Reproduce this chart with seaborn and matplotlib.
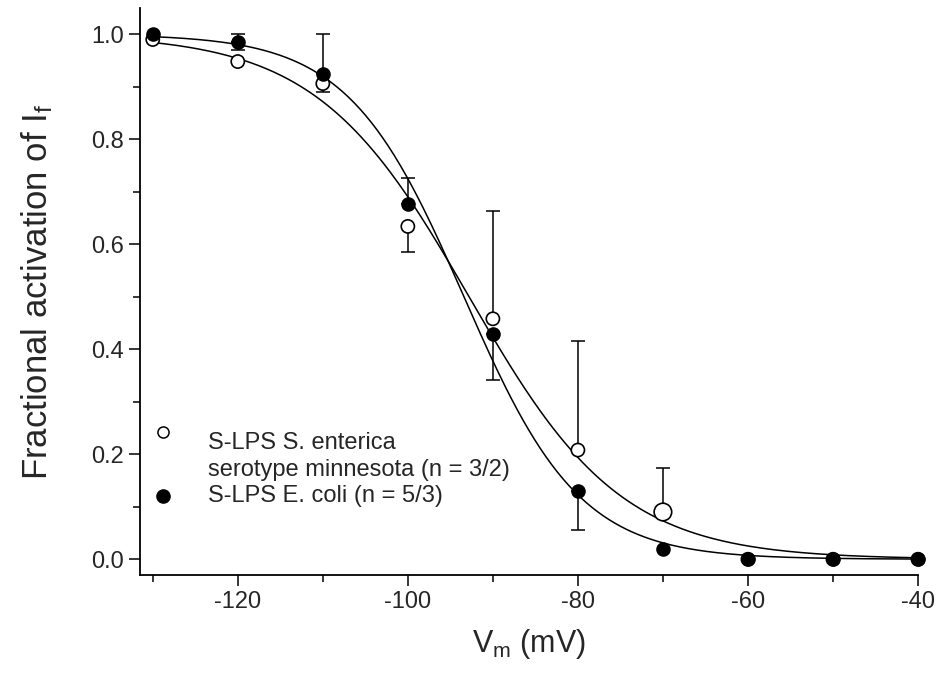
import numpy as np
import pandas as pd
import seaborn as sns
import matplotlib.pyplot as plt
from matplotlib.ticker import MultipleLocator

# membrane voltage steps (mV)
voltage = [-130, -120, -110, -100, -90, -80, -70, -60, -50, -40]

# S-LPS S. enterica serotype minnesota (open circles)
enterica = [0.99, 0.948, 0.906, 0.634, 0.458, 0.208, 0.09, 0.0, 0.0, 0.0]
enterica_err_up = [0, 0, 0, 0, 0.206, 0.207, 0.084, 0, 0, 0]
enterica_err_dn = [0, 0, 0.016, 0.048, 0, 0, 0, 0, 0, 0]

# S-LPS E. coli (filled circles)
ecoli = [1.0, 0.985, 0.924, 0.676, 0.43, 0.13, 0.02, 0.0, 0.0, 0.0]
ecoli_err_up = [0, 0.015, 0.076, 0.051, 0, 0, 0, 0, 0, 0]
ecoli_err_dn = [0, 0.015, 0, 0, 0.088, 0.075, 0, 0, 0, 0]

# Boltzmann fit parameters (V1/2, slope k)
enterica_fit = (-92.8, 8.98)
ecoli_fit = (-93.4, 6.81)

legend_labels = ['S-LPS S. enterica\nserotype minnesota (n = 3/2)', 'S-LPS E. coli (n = 5/3)']


def boltzmann(v, vhalf, k):
    return 1.0 / (1.0 + np.exp((v - vhalf) / k))


sns.set_style('ticks')
plt.rcParams['font.family'] = ['Liberation Sans', 'DejaVu Sans']
plt.rcParams['mathtext.default'] = 'regular'
plt.rcParams['axes.unicode_minus'] = False

fig = plt.figure(figsize=(9.39, 6.77), dpi=100)
ax = fig.add_axes([140 / 939, 1 - 575 / 677, 778 / 939, 567 / 677])

# fitted curves
v_fit = np.linspace(voltage[0], voltage[-1], 400)
fits = pd.DataFrame({'v': v_fit,
                     'enterica': boltzmann(v_fit, *enterica_fit),
                     'ecoli': boltzmann(v_fit, *ecoli_fit)})
sns.lineplot(data=fits, x='v', y='enterica', color='black', lw=1.1, ax=ax, zorder=2)
sns.lineplot(data=fits, x='v', y='ecoli', color='black', lw=1.1, ax=ax, zorder=2)

# error bars (one-sided, only where present)
v = np.array(voltage)
for y, up, dn in [(enterica, enterica_err_up, enterica_err_dn), (ecoli, ecoli_err_up, ecoli_err_dn)]:
    y, up, dn = np.array(y), np.array(up), np.array(dn)
    m = up > 0
    ax.errorbar(v[m], y[m], yerr=[np.zeros(m.sum()), up[m]], fmt='none', ecolor='black',
                elinewidth=1.1, capsize=5, capthick=1.1, zorder=1)
    m = dn > 0
    ax.errorbar(v[m], y[m], yerr=[dn[m], np.zeros(m.sum())], fmt='none', ecolor='black',
                elinewidth=1.1, capsize=5, capthick=1.1, zorder=1)

# data points
pts = pd.DataFrame({'v': voltage, 'enterica': enterica, 'ecoli': ecoli})
sizes = [160 if x == -70 else 90 for x in voltage]
sns.scatterplot(data=pts, x='v', y='enterica', marker='o', s=sizes, color='white',
                edgecolor='black', linewidth=1.2, ax=ax, zorder=4, clip_on=False)
sns.scatterplot(data=pts, x='v', y='ecoli', marker='o', s=90, color='black',
                edgecolor='black', linewidth=1.0, ax=ax, zorder=5, clip_on=False)

# axes
ax.set_xlim(-131.5, -40)
ax.set_ylim(-0.03, 1.05)
ax.set_xticks([-120, -100, -80, -60, -40])
ax.xaxis.set_minor_locator(MultipleLocator(10))
ax.set_yticks([0, 0.2, 0.4, 0.6, 0.8, 1.0])
ax.yaxis.set_minor_locator(MultipleLocator(0.1))
ax.set_yticklabels(['0.0', '0.2', '0.4', '0.6', '0.8', '1.0'])
ax.tick_params(which='major', length=8, width=1.1, labelsize=17, color='black', direction='out')
ax.tick_params(which='minor', length=5, width=1.1, color='black', direction='out')
for s in ['left', 'bottom']:
    ax.spines[s].set_linewidth(1.3)
    ax.spines[s].set_color('black')
sns.despine(ax=ax)

# axis titles
ax.set_xlabel('V$_m$ (mV)', fontsize=22, labelpad=10)
ax.set_ylabel('Fractional activation of I$_f$', fontsize=25, labelpad=26)

# legend, drawn by hand
ax.plot([0.0296], [0.252], 'o', ms=8, mfc='white', mec='black', mew=1.1, transform=ax.transAxes)
ax.plot([0.0296], [0.139], 'o', ms=9.5, mfc='black', mec='black', transform=ax.transAxes)
ax.text(0.0874, 0.252, legend_labels[0], transform=ax.transAxes, fontsize=17,
        va='top', ha='left', linespacing=1.3)
ax.text(0.0874, 0.139, legend_labels[1], transform=ax.transAxes, fontsize=17,
        va='center', ha='left')

fig.savefig('out.png', dpi=100)
